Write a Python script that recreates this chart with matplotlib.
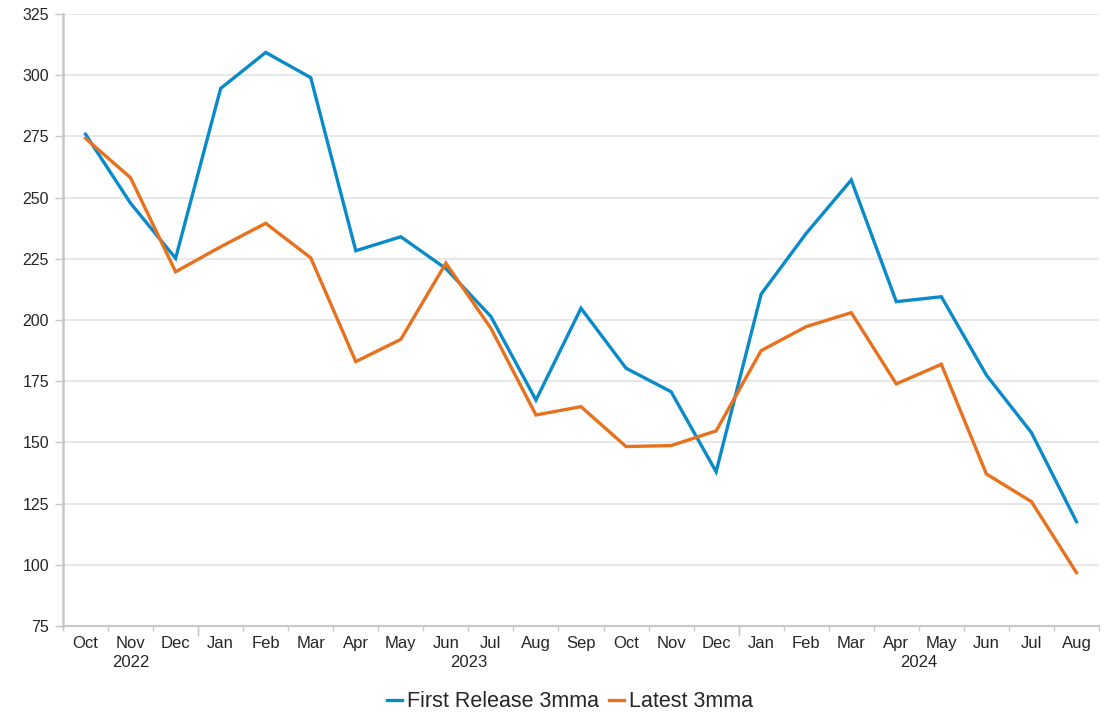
import numpy
from matplotlib import pyplot

# monthly labels, Oct 2022 .. Aug 2024
months = ['Oct', 'Nov', 'Dec',
          'Jan', 'Feb', 'Mar', 'Apr', 'May', 'Jun', 'Jul', 'Aug', 'Sep', 'Oct', 'Nov', 'Dec',
          'Jan', 'Feb', 'Mar', 'Apr', 'May', 'Jun', 'Jul', 'Aug']
years = ['2022', '2023', '2024']
year_counts = [3, 12, 8]

first_release = [275.9, 247.7, 225.2, 294.6, 309.3, 299.0, 228.3, 234.0, 221.0, 201.4,
                 167.3, 204.8, 180.3, 170.7, 138.0, 210.6, 235.4, 257.2, 207.5, 209.5,
                 177.5, 154.0, 117.6]
latest = [274.2, 258.1, 219.7, 229.9, 239.5, 225.4, 183.0, 192.1, 223.2, 196.6,
          161.2, 164.6, 148.3, 148.7, 154.7, 187.5, 197.3, 203.0, 173.9, 181.9,
          137.1, 125.8, 96.8]

BLUE = '#0a8bc9'
ORANGE = '#e8711e'
GRID = '#e3e3e3'
AXIS = '#c8c8cc'
TEXT = '#262626'

pyplot.rcParams['font.family'] = ['Liberation Sans', 'DejaVu Sans']

fig = pyplot.figure(figsize=(11.07, 7.14), dpi=100)
ax = fig.add_axes([63 / 1107, 88 / 714, 1036 / 1107, 612 / 714])

x = numpy.arange(len(months))
ax.plot(x, first_release, color=BLUE, lw=2.4, label='First Release 3mma',
        solid_joinstyle='miter')
ax.plot(x, latest, color=ORANGE, lw=2.4, label='Latest 3mma',
        solid_joinstyle='miter')

ax.set_xlim(-0.5, len(months) - 0.5)
ax.set_ylim(75, 325)
ax.set_yticks(numpy.arange(75, 326, 25))
ax.yaxis.grid(True, color=GRID, lw=1.2)
ax.set_axisbelow(True)

for s in ['top', 'right']:
    ax.spines[s].set_visible(False)
ax.spines['left'].set_color(AXIS)
ax.spines['left'].set_linewidth(1.8)
ax.spines['bottom'].set_color(AXIS)
ax.spines['bottom'].set_linewidth(1.5)

ax.tick_params(axis='y', length=6, width=1, color=AXIS, labelsize=11.5,
               labelcolor=TEXT, pad=4)

# month labels at centres, tick marks at boundaries
ax.set_xticks(x)
ax.set_xticklabels(months)
ax.tick_params(axis='x', which='major', length=0, labelsize=12,
               labelcolor=TEXT, pad=7)
ax.set_xticks(numpy.arange(-0.5, len(months), 1), minor=True)
ax.tick_params(axis='x', which='minor', length=3.5, width=1, color=AXIS)

# longer ticks at year boundaries
bounds = numpy.cumsum([0] + year_counts) - 0.5
sec = ax.secondary_xaxis('bottom')
sec.set_xticks(bounds[1:-1])
sec.set_xticklabels([])
sec.tick_params(length=7, width=1, color=AXIS)
sec.spines['bottom'].set_visible(False)

# year labels centred under each year's months
for yr, lo, hi in zip(years, bounds[:-1], bounds[1:]):
    ax.text((lo + hi) / 2, -0.048, yr, transform=ax.get_xaxis_transform(),
            ha='center', va='top', fontsize=12, color=TEXT)

fig.legend(loc='lower center', bbox_to_anchor=(0.515, -0.025), ncol=2,
           frameon=False, fontsize=15.5, handlelength=0.7, handletextpad=0.25,
           columnspacing=0.45, labelcolor=TEXT)

fig.savefig('out.png', dpi=100)
